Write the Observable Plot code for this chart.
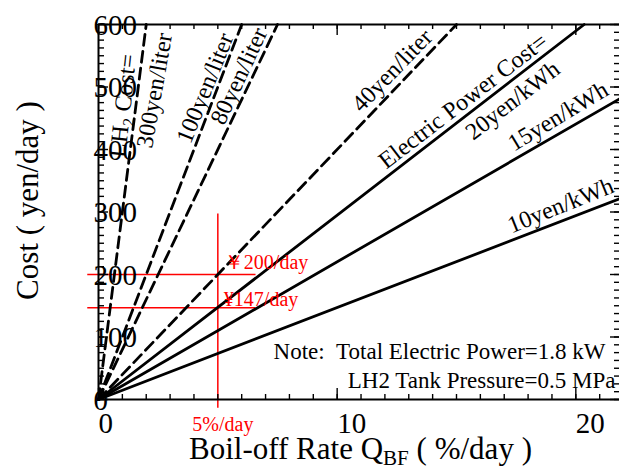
<!DOCTYPE html>
<html><head><meta charset="utf-8">
<script src="https://cdn.jsdelivr.net/npm/d3@7"></script>
<script src="https://cdn.jsdelivr.net/npm/@observablehq/plot@0.6"></script>
<style>body{margin:0;background:#fff} svg{display:block}</style>
</head><body><div id="chart"></div>
<script>
// ---- data ----
const seriesNames = ["LH2 300yen/liter","LH2 100yen/liter","LH2 80yen/liter","LH2 40yen/liter","Elec 20yen/kWh","Elec 15yen/kWh","Elec 10yen/kWh"];
const seriesEndX = [2, 6, 7.5, 15, 20.35, 21.83, 21.83];
const seriesEndY = [600, 600, 600, 600, 600, 481, 321];
const seriesDashed = [true, true, true, true, false, false, false];

const xMajorTicks = [0, 10, 20];
const xMinorTicks = d3.range(0, 22, 1);
const yMajorTicks = [0, 100, 200, 300, 400, 500, 600];
const yMinorTicks = d3.range(0, 600.01, 12.5);

const guideX = [5];
const guideY = [200, 147];
const guideLabels = ["\uFFE5200/day", "\u00A5147/day"];
const guideXLabel = "5%/day";

const lineLabelText = ["LH_{2} Cost=", "300yen/liter", "100yen/liter", "80yen/liter", "40yen/liter", "Electric Power Cost=", "20yen/kWh", "15yen/kWh", "10yen/kWh"];
const lineLabelX = [1.03, 2.347, 4.463, 5.888, 12.30, 15.275, 17.35, 19.257, 19.36];
const lineLabelY = [470, 494.4, 498.4, 517.6, 526.4, 477.6, 478.4, 453.1, 310.4];
const lineLabelAngle = [-84, -80, -68, -65, -46, -37.5, -38, -31, -22];

const noteLines = ["Note:\u00A0\u00A0Total Electric Power=1.8 kW", "LH2 Tank Pressure=0.5 MPa"];
const xTitle = "Boil-off Rate Q_{BF} ( %/day )";
const yTitle = "Cost ( yen/day )";

// ---- build tables ----
const rows = [];
seriesNames.forEach((n, i) => {
  rows.push({name: n, x: 0, y: 0, dashed: seriesDashed[i]});
  rows.push({name: n, x: seriesEndX[i], y: seriesEndY[i], dashed: seriesDashed[i]});
});
const labels = lineLabelText.map((t, i) => ({t, x: lineLabelX[i], y: lineLabelY[i], a: lineLabelAngle[i]}));

const W = 619, H = 467, mL = 98, mR = 0, mT = 24, mB = 68;
const pw = W - mL - mR, ph = H - mT - mB;
const RED = "#ff0000";
const FONT = "Liberation Serif, Times New Roman, serif";

const chart = Plot.plot({
  width: W, height: H,
  marginLeft: mL, marginRight: mR, marginTop: mT, marginBottom: mB,
  style: {fontFamily: FONT, background: "white", overflow: "visible"},
  x: {domain: [0, 21.83], axis: null},
  y: {domain: [0, 600], axis: null},
  marks: [
    // red guides
    Plot.ruleX(guideX, {x: d => d, y1: -14, y2: 297, stroke: RED, strokeWidth: 1.5}),
    Plot.ruleY(guideY, {y: d => d, x1: -0.45, x2: 6.6, stroke: RED, strokeWidth: 1.5}),
    // series
    Plot.line(rows.filter(d => d.dashed), {x: "x", y: "y", z: "name", stroke: "black", strokeWidth: 2.8, strokeDasharray: "11,6"}),
    Plot.line(rows.filter(d => !d.dashed), {x: "x", y: "y", z: "name", stroke: "black", strokeWidth: 2.8}),
    // axis lines
    Plot.ruleX([0], {stroke: "black", strokeWidth: 2}),
    Plot.ruleY([0, 600], {stroke: "black", strokeWidth: 2}),
    // ticks bottom/top
    Plot.tickX(xMinorTicks, {x: d => d, insetTop: ph - 5, stroke: "black", strokeWidth: 1.4}),
    Plot.tickX(xMajorTicks, {x: d => d, insetTop: ph - 11, stroke: "black", strokeWidth: 1.4}),
    Plot.tickX(xMinorTicks, {x: d => d, insetBottom: ph - 5, stroke: "black", strokeWidth: 1.4}),
    Plot.tickX(xMajorTicks, {x: d => d, insetBottom: ph - 11, stroke: "black", strokeWidth: 1.4}),
    // ticks left/right
    Plot.tickY(yMinorTicks, {y: d => d, insetRight: pw - 6, stroke: "black", strokeWidth: 1.4}),
    Plot.tickY(yMajorTicks, {y: d => d, insetRight: pw - 10, stroke: "black", strokeWidth: 1.4}),
    Plot.tickY(yMinorTicks, {y: d => d, insetLeft: pw - 5, stroke: "black", strokeWidth: 1.4}),
    Plot.tickY(yMajorTicks, {y: d => d, insetLeft: pw - 9, stroke: "black", strokeWidth: 1.4}),
    // line labels
    Plot.text(labels, {x: "x", y: "y", text: "t", rotate: "a", fontSize: 24, fill: "black", textAnchor: "middle"}),
    // guide labels
    Plot.text([guideLabels[0]], {x: () => guideX[0], y: () => guideY[0], text: d => d, textAnchor: "start", lineAnchor: "bottom", dx: 6, dy: -6, fill: RED, fontSize: 20}),
    Plot.text([guideLabels[1]], {x: () => guideX[0], y: () => guideY[1], text: d => d, textAnchor: "start", lineAnchor: "bottom", dx: 6, dy: -2, fill: RED, fontSize: 20}),
    Plot.text([guideXLabel], {x: () => guideX[0], text: d => d, frameAnchor: "bottom", textAnchor: "middle", lineAnchor: "bottom", dx: 5, dy: 31, fill: RED, fontSize: 20}),
    // note
    Plot.text([noteLines[0]], {text: d => d, frameAnchor: "bottom-right", textAnchor: "end", lineAnchor: "bottom", dx: -14, dy: -41, fontSize: 23, fill: "black"}),
    Plot.text([noteLines[1]], {text: d => d, frameAnchor: "bottom-right", textAnchor: "end", lineAnchor: "bottom", dx: -4, dy: -12, fontSize: 23, fill: "black"}),
    // tick labels
    Plot.text(xMajorTicks, {x: d => d, text: d => String(d), frameAnchor: "bottom", textAnchor: "start", lineAnchor: "bottom", dy: 33, fontSize: 29, fill: "black"}),
    Plot.text(yMajorTicks, {y: d => d, text: d => String(d), frameAnchor: "left", textAnchor: "start", dx: -5, dy: 1, fontSize: 29, fill: "black"}),
    // titles
    Plot.text([xTitle], {text: d => d, frameAnchor: "bottom", textAnchor: "middle", lineAnchor: "bottom", dx: 1.5, dy: 59, fontSize: 31, fill: "black"}),
    Plot.text([yTitle], {text: d => d, frameAnchor: "left", rotate: -90, textAnchor: "middle", dx: -70.4, dy: -11.5, fontSize: 31, fill: "black"})
  ]
});

// subscripts
d3.select(chart).selectAll("text").each(function() {
  const t = this.textContent;
  if (!t.includes("_{")) return;
  const parts = t.split(/_\{([^}]*)\}/);
  const sel = d3.select(this);
  sel.text(null);
  parts.forEach((p, i) => {
    if (!p) return;
    const ts = sel.append("tspan").text(p);
    if (i % 2 === 1) ts.attr("font-size", "0.68em").attr("dy", "0.3em");
    else if (i > 0) ts.attr("dy", "-0.204em");
  });
});

document.getElementById("chart").appendChild(chart);
</script>
</body></html>
